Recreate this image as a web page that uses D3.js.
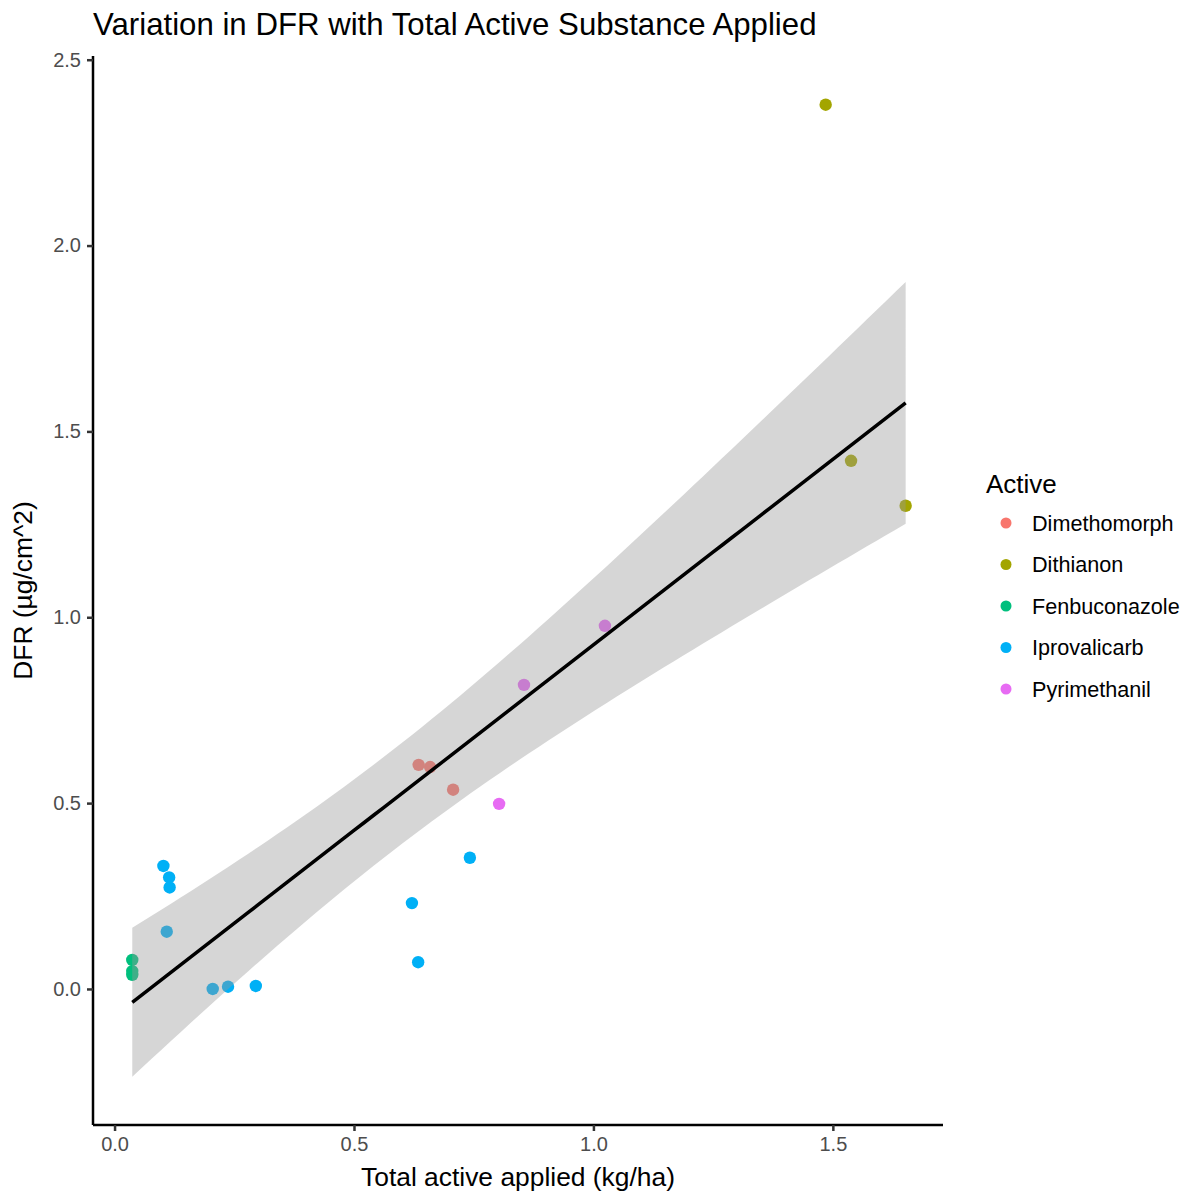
<!DOCTYPE html>
<html lang="en">
<head>
<meta charset="UTF-8">
<title>DFR vs total active</title>
<style>
  body { margin: 0; background: #fff; }
  svg text { font-family: "Liberation Sans", Arial, sans-serif; }
</style>
</head>
<body>
<script src="https://d3js.org/d3.v7.min.js"></script>
<script>
// Data
let actives = ["Dimethomorph", "Dithianon", "Fenbuconazole", "Iprovalicarb", "Pyrimethanil"];
let colours = ["#F8766D", "#A3A500", "#00BF7D", "#00B0F6", "#E76BF3"];

let pointActive = [
  "Dimethomorph", "Dimethomorph", "Dimethomorph",
  "Dithianon", "Dithianon", "Dithianon",
  "Fenbuconazole", "Fenbuconazole", "Fenbuconazole",
  "Iprovalicarb", "Iprovalicarb", "Iprovalicarb", "Iprovalicarb", "Iprovalicarb",
  "Iprovalicarb", "Iprovalicarb", "Iprovalicarb", "Iprovalicarb", "Iprovalicarb",
  "Pyrimethanil", "Pyrimethanil", "Pyrimethanil"
];
let totalApplied = [
  0.635, 0.659, 0.707,
  1.485, 1.538, 1.652,
  0.037, 0.037, 0.037,
  0.102, 0.114, 0.115, 0.109, 0.205,
  0.237, 0.295, 0.621, 0.634, 0.742,
  0.803, 0.855, 1.024
];
let dfr = [
  0.603, 0.597, 0.536,
  2.379, 1.421, 1.300,
  0.078, 0.048, 0.038,
  0.331, 0.300, 0.273, 0.154, 0.000,
  0.006, 0.008, 0.231, 0.072, 0.353,
  0.498, 0.818, 0.977
];

let xTicks = [0, 0.5, 1.0, 1.5];
let yTicks = [0, 0.5, 1.0, 1.5, 2.0, 2.5];

let svgWidth = 1185, svgHeight = 1191;
let panel = { left: 93, right: 943, top: 56, bottom: 1125 };

let svg = d3.select("body").append("svg")
  .attr("width", svgWidth)
  .attr("height", svgHeight);

let xScale = d3.scaleLinear().domain([-0.045, 1.73]).range([panel.left, panel.right]);
let yScale = d3.scaleLinear().domain([-0.366, 2.51]).range([panel.bottom, panel.top]);
let colour = d3.scaleOrdinal().domain(actives).range(colours);

let points = totalApplied.map((x, i) => ({ x: x, y: dfr[i], active: pointActive[i] }));

// linear fit with 95% confidence band (like geom_smooth(method = "lm"))
let n = points.length;
let xbar = d3.mean(points, d => d.x);
let ybar = d3.mean(points, d => d.y);
let sxx = d3.sum(points, d => (d.x - xbar) ** 2);
let sxy = d3.sum(points, d => (d.x - xbar) * (d.y - ybar));
let slope = sxy / sxx;
let intercept = ybar - slope * xbar;
let df = n - 2;
let s = Math.sqrt(d3.sum(points, d => (d.y - intercept - slope * d.x) ** 2) / df);
let z = 1.959964;
let tCrit = z + (z ** 3 + z) / (4 * df) + (5 * z ** 5 + 16 * z ** 3 + 3 * z) / (96 * df * df);

let xMin = d3.min(totalApplied), xMax = d3.max(totalApplied);
let fit = d3.range(81).map(i => {
  let x = xMin + (xMax - xMin) * i / 80;
  let yHat = intercept + slope * x;
  let se = s * Math.sqrt(1 / n + (x - xbar) ** 2 / sxx);
  return { x: x, y: yHat, lo: yHat - tCrit * se, hi: yHat + tCrit * se };
});

// points first, the band is drawn over them as in ggplot
svg.append("g").selectAll("circle")
  .data(points)
  .enter()
  .append("circle")
  .attr("cx", d => xScale(d.x))
  .attr("cy", d => yScale(d.y))
  .attr("r", 6.2)
  .attr("fill", d => colour(d.active));

svg.append("path")
  .datum(fit)
  .attr("fill", "#999999")
  .attr("fill-opacity", 0.4)
  .attr("d", d3.area().x(d => xScale(d.x)).y0(d => yScale(d.lo)).y1(d => yScale(d.hi)));

svg.append("path")
  .datum(fit)
  .attr("fill", "none")
  .attr("stroke", "#000")
  .attr("stroke-width", 3.5)
  .attr("d", d3.line().x(d => xScale(d.x)).y(d => yScale(d.y)));

// axes
let xAxis = svg.append("g")
  .attr("transform", `translate(0, ${panel.bottom})`)
  .call(d3.axisBottom(xScale).tickValues(xTicks).tickFormat(d3.format(".1f")).tickSize(6).tickPadding(6));
let yAxis = svg.append("g")
  .attr("transform", `translate(${panel.left}, 0)`)
  .call(d3.axisLeft(yScale).tickValues(yTicks).tickFormat(d3.format(".1f")).tickSize(6).tickPadding(6));

[xAxis, yAxis].forEach(a => {
  a.select(".domain").attr("stroke", "#000").attr("stroke-width", 2.5);
  a.selectAll(".tick line").attr("stroke", "#333").attr("stroke-width", 2.5);
  a.selectAll(".tick text")
    .attr("fill", "#4D4D4D")
    .style("font-size", "20px");
});
xAxis.select(".domain").attr("d", `M${panel.left},0H${panel.right}`);
yAxis.select(".domain").attr("d", `M0,${panel.top}V${panel.bottom}`);

// titles
svg.append("text")
  .attr("x", panel.left)
  .attr("y", 35)
  .style("font-size", "31.2px")
  .attr("fill", "#000")
  .text("Variation in DFR with Total Active Substance Applied");

svg.append("text")
  .attr("x", (panel.left + panel.right) / 2)
  .attr("y", 1186)
  .attr("text-anchor", "middle")
  .style("font-size", "26.4px")
  .text("Total active applied (kg/ha)");

svg.append("text")
  .attr("transform", `translate(32, ${(panel.top + panel.bottom) / 2}) rotate(-90)`)
  .attr("text-anchor", "middle")
  .style("font-size", "26.4px")
  .text("DFR (µg/cm^2)");

// legend
let legend = svg.append("g").attr("transform", "translate(986, 0)");
legend.append("text")
  .attr("x", 0)
  .attr("y", 493)
  .style("font-size", "26px")
  .text("Active");

let items = legend.selectAll(".item")
  .data(actives)
  .enter()
  .append("g")
  .attr("class", "item")
  .attr("transform", (d, i) => `translate(0, ${523 + i * 41.5})`);
items.append("circle")
  .attr("cx", 20)
  .attr("cy", 0)
  .attr("r", 5.5)
  .attr("fill", d => colour(d));
items.append("text")
  .attr("x", 46)
  .attr("y", 0)
  .attr("dy", "0.35em")
  .style("font-size", "21.6px")
  .text(d => d);
</script>
</body>
</html>
